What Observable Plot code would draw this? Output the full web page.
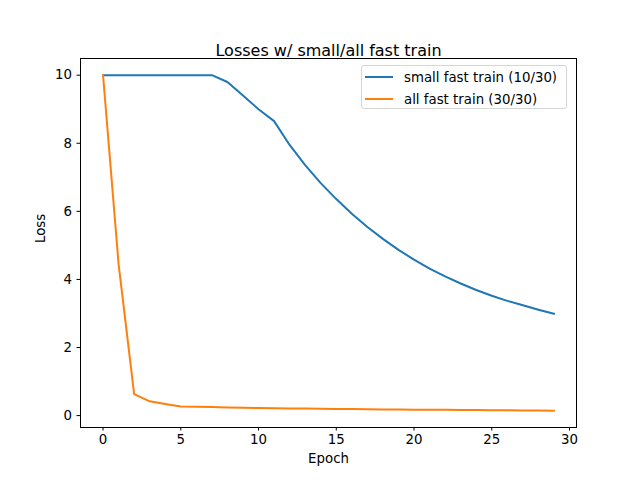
<!DOCTYPE html>
<html>
<head>
<meta charset="utf-8">
<script src="https://cdn.jsdelivr.net/npm/d3@7"></script>
<script src="https://cdn.jsdelivr.net/npm/@observablehq/plot@0.6"></script>
<style>
  html, body { margin: 0; padding: 0; background: #fff; }
  #wrap { position: relative; width: 640px; height: 480px; font-family: "DejaVu Sans", sans-serif; }
  #legend { position: absolute; left: 361px; top: 65px; width: 206px; height: 44px;
    border: 1px solid #d6d6d6; border-radius: 3px; background: rgba(255,255,255,0.8);
    font-size: 13.33px; color: #000; box-sizing: border-box; }
  .row { position: absolute; left: 0; height: 20px; display: flex; align-items: center; }
  .sw { display: inline-block; width: 28px; height: 2px; margin-left: 3px; margin-right: 11px; }
</style>
</head>
<body>
<div id="wrap"></div>
<script>
const title = "Losses w/ small/all fast train";
const xLabel = "Epoch";
const yLabel = "Loss";
const seriesNames = ["small fast train (10/30)", "all fast train (30/30)"];
const seriesColors = ["#1f77b4", "#ff7f0e"];
const epochs = d3.range(0, 30);
const smallLoss = [10, 10, 10, 10, 10, 10, 10, 10, 9.8, 9.4, 9.0, 8.65, 7.95, 7.36, 6.83, 6.36, 5.93, 5.54, 5.19, 4.87, 4.58, 4.32, 4.09, 3.88, 3.69, 3.52, 3.37, 3.24, 3.11, 2.99];
const allLoss = [10, 4.45, 0.63, 0.42, 0.34, 0.27, 0.26, 0.25, 0.24, 0.23, 0.22, 0.215, 0.21, 0.205, 0.2, 0.195, 0.19, 0.185, 0.18, 0.177, 0.174, 0.171, 0.168, 0.165, 0.162, 0.159, 0.156, 0.153, 0.15, 0.145];
const xTicks = [0, 5, 10, 15, 20, 25, 30];
const yTicks = [0, 2, 4, 6, 8, 10];

const data = [];
epochs.forEach((e, i) => data.push({epoch: e, loss: smallLoss[i], series: seriesNames[0]}));
epochs.forEach((e, i) => data.push({epoch: e, loss: allLoss[i], series: seriesNames[1]}));

const chart = Plot.plot({
  width: 640,
  height: 480,
  marginLeft: 80,
  marginRight: 64,
  marginTop: 58,
  marginBottom: 53,
  style: {fontFamily: "DejaVu Sans, sans-serif", fontSize: "13.33px", background: "#fff", color: "#000"},
  x: {domain: [-1.45, 30.45], ticks: xTicks},
  y: {domain: [-0.35, 10.49], ticks: yTicks},
  color: {domain: seriesNames, range: seriesColors},
  marks: [
    Plot.frame({stroke: "#000", strokeWidth: 1}),
    Plot.axisX({ticks: xTicks, tickSize: 3.5, tickPadding: 4, label: null, fontSize: 13.33, tickFormat: d3.format("d")}),
    Plot.axisY({ticks: yTicks, tickSize: 3.5, tickPadding: 5, label: null, fontSize: 13.33, tickFormat: d3.format("d")}),
    Plot.line(data, {x: "epoch", y: "loss", z: "series", stroke: "series", strokeWidth: 2, strokeLinejoin: "round", strokeLinecap: "square"}),
    Plot.text([title], {frameAnchor: "top", dy: -14, fontSize: 16}),
    Plot.text([xLabel], {frameAnchor: "bottom", dy: 35, fontSize: 13.33}),
    Plot.text([yLabel], {frameAnchor: "left", dx: -40, rotate: -90, fontSize: 13.33})
  ]
});

const wrap = document.getElementById("wrap");
wrap.appendChild(chart);

const legend = document.createElement("div");
legend.id = "legend";
seriesNames.forEach((name, i) => {
  const row = document.createElement("div");
  row.className = "row";
  row.style.top = (1 + i * 22) + "px";
  const sw = document.createElement("span");
  sw.className = "sw";
  sw.style.background = seriesColors[i];
  const t = document.createElement("span");
  t.textContent = name;
  row.appendChild(sw);
  row.appendChild(t);
  legend.appendChild(row);
});
wrap.appendChild(legend);
</script>
</body>
</html>
